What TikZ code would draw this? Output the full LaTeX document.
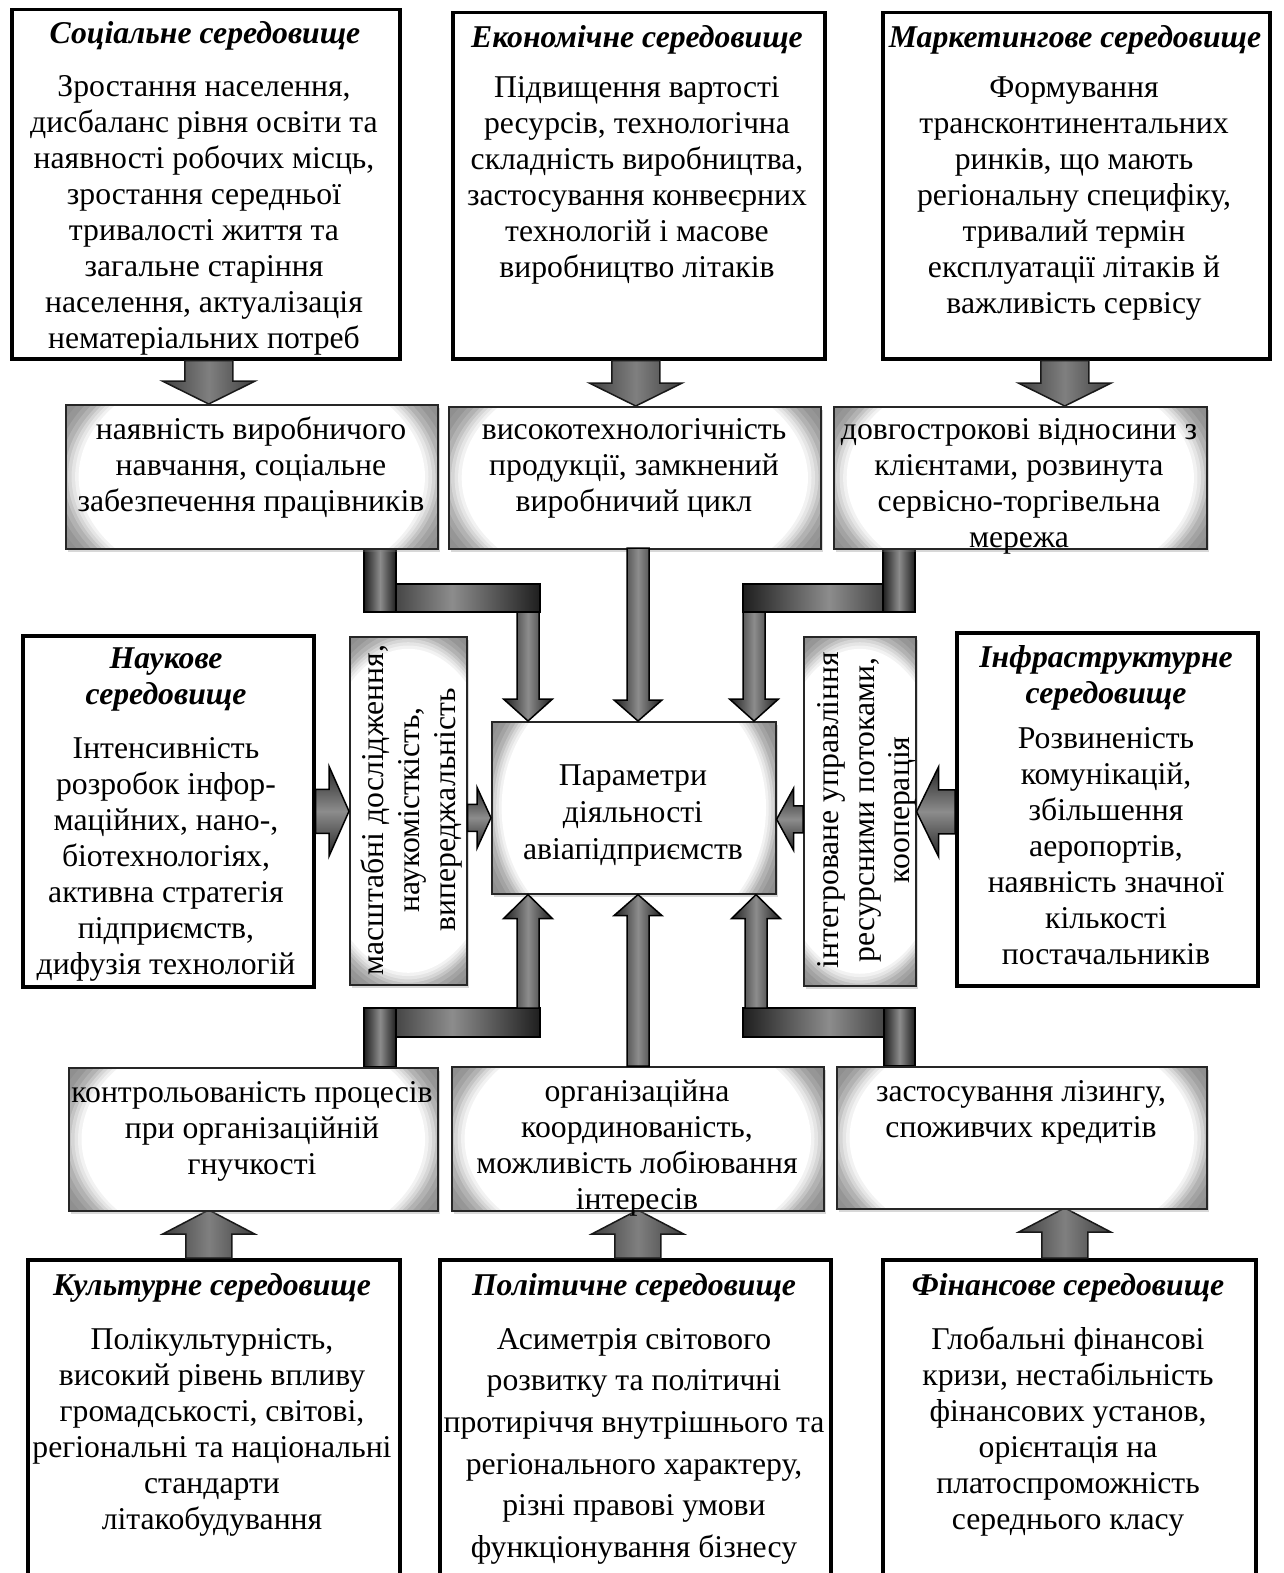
\documentclass[tikz,border=0pt]{standalone}
\usepackage{fontspec}
\setmainfont{Liberation Serif}
\usetikzlibrary{shadows,calc}
\newcommand{\blkdown}[6]{\path[#1] let \p1=(#2), \p2=(#3) in (\x1-#4pt,\y1) -- (\x1-#4pt,\y2+#6pt) -- (\x1-#5pt,\y2+#6pt) -- (\x1,\y2) -- (\x1+#5pt,\y2+#6pt) -- (\x1+#4pt,\y2+#6pt) -- (\x1+#4pt,\y1) -- cycle;}
\newcommand{\blkup}[6]{\path[#1] let \p1=(#2), \p2=(#3) in (\x1-#4pt,\y1) -- (\x1-#4pt,\y2-#6pt) -- (\x1-#5pt,\y2-#6pt) -- (\x1,\y2) -- (\x1+#5pt,\y2-#6pt) -- (\x1+#4pt,\y2-#6pt) -- (\x1+#4pt,\y1) -- cycle;}
\newcommand{\blkright}[6]{\path[#1] let \p1=(#2), \p2=(#3) in (\x1,\y1+#4pt) -- (\x2-#6pt,\y1+#4pt) -- (\x2-#6pt,\y1+#5pt) -- (\x2,\y1) -- (\x2-#6pt,\y1-#5pt) -- (\x2-#6pt,\y1-#4pt) -- (\x1,\y1-#4pt) -- cycle;}
\newcommand{\blkleft}[6]{\path[#1] let \p1=(#2), \p2=(#3) in (\x1,\y1+#4pt) -- (\x2+#6pt,\y1+#4pt) -- (\x2+#6pt,\y1+#5pt) -- (\x2,\y1) -- (\x2+#6pt,\y1-#5pt) -- (\x2+#6pt,\y1-#4pt) -- (\x1,\y1-#4pt) -- cycle;}
\newcommand{\glowfill}[2]{%
  \foreach \grad/\gcol in {1.32/46,1.22/44,1.16/41,1.12/36,1.09/30,1.06/23,1.04/16,1.02/10,1.00/5,0.98/0} {%
    \fill[black!\gcol] let \p1=(path picture bounding box.south west), \p2=(path picture bounding box.north east),
      \n1={(\x2-\x1)/2}, \n2={(\y2-\y1)/2} in
      (path picture bounding box.center) ellipse [x radius=\grad*#1*\n1, y radius=\grad*#2*\n2];}}
\tikzset{
  thickbox/.style={draw=black, line width=3.5pt, fill=white, inner sep=0pt, anchor=north west},
  glowbox/.style={draw=black!85, line width=1.6pt, fill=black!46, inner sep=0pt, anchor=north west,
    drop shadow={shadow xshift=2.5pt, shadow yshift=-3.5pt, opacity=0.3}, path picture={\glowfill{0.95}{1.65}}},
  tallglow/.style={glowbox, path picture={\glowfill{1.65}{0.95}}},
  txt/.style={font=\fontsize{31.7}{36}\selectfont, align=center, inner sep=0pt, anchor=north},
  ttl/.style={font=\fontsize{31.7}{36}\selectfont\bfseries\itshape, align=center, inner sep=0pt, anchor=north},
  blk/.style={draw=black, line width=1.5pt, left color=black!88, right color=black!88, middle color=black!45},
  blkv/.style={draw=black, line width=1.5pt, top color=black!85, bottom color=black!85, middle color=black!45},
  blklight/.style={draw=black!90, line width=1.5pt, left color=black!75, right color=black!75, middle color=black!50},
}
\begin{document}
\begin{tikzpicture}[x=1pt,y=-1pt]
\useasboundingbox (0,0) rectangle (1284,1573);
\fill[white] (0,0) rectangle (1284,1573);

% ---- boxes (nodes) ----
\node[thickbox, minimum width=388pt, minimum height=349pt] (soc) at (10,8) {};
\node[thickbox, minimum width=372pt, minimum height=346pt] (eco) at (451,11) {};
\node[thickbox, minimum width=387pt, minimum height=346pt] (mkt) at (881,11) {};
\node[thickbox, minimum width=291pt, minimum height=351pt] (nau) at (21,634) {};
\node[thickbox, minimum width=301pt, minimum height=353pt] (inf) at (955,631) {};
\node[thickbox, minimum width=372pt, minimum height=342pt] (cul) at (26,1258) {};
\node[thickbox, minimum width=391pt, minimum height=342pt] (pol) at (438,1258) {};
\node[thickbox, minimum width=373pt, minimum height=342pt] (fin) at (881,1258) {};

% ---- connectors: top row ----
\blkdown{blklight}{[xshift=3pt]soc.south}{0,404}{24}{46.5}{23}
\blkdown{blklight}{[xshift=-3pt]eco.south}{0,406}{24}{46.5}{23}
\blkdown{blklight}{[xshift=-11.5pt]mkt.south}{0,406}{24}{46.5}{23}
% bottom row
\blkup{blklight}{[xshift=-5pt]cul.north}{0,1210}{23}{46}{24}
\blkup{blklight}{[xshift=2.5pt]pol.north}{0,1210}{23}{46}{24}
\blkup{blklight}{[xshift=-4.5pt]fin.north}{0,1208}{23}{46}{24}

% elbows
\coordinate (etl) at (528,612);
\coordinate (etr) at (754,612);
\coordinate (ebl) at (528,1008);
\coordinate (ebr) at (756,1008);
\coordinate (emt) at (638,548);
\coordinate (emb) at (638,1066);

\path[blk] (364,584) rectangle (540,612);
\path[blk] (364,548) rectangle (396,612);
\path[blk] (743,584) rectangle (915,612);
\path[blk] (883,548) rectangle (915,612);
\path[blk] (364,1008) rectangle (540,1037);
\path[blk] (364,1008) rectangle (396,1067);
\path[blk] (743,1008) rectangle (915,1037);
\path[blk] (884,1008) rectangle (915,1066);

% gray boxes
\node[glowbox, minimum width=372pt, minimum height=144pt] (g1) at (65,404) {};
\node[glowbox, minimum width=372pt, minimum height=142pt] (g2) at (448,406) {};
\node[glowbox, minimum width=373pt, minimum height=142pt] (g3) at (833,406) {};
\node[tallglow, minimum width=117pt, minimum height=348pt] (v1) at (349,636) {};
\node[glowbox, minimum width=284pt, minimum height=172pt] (cen) at (491,721) {};
\node[tallglow, minimum width=112pt, minimum height=349pt] (v2) at (803,636) {};
\node[glowbox, minimum width=369pt, minimum height=143pt] (b1) at (68,1067) {};
\node[glowbox, minimum width=372pt, minimum height=144pt] (b2) at (451,1066) {};
\node[glowbox, minimum width=370pt, minimum height=142pt] (b3) at (836,1066) {};

% arrows into centre
\blkdown{blk}{etl}{cen.north}{11}{24.5}{22}
\blkdown{blk}{etr}{cen.north}{11}{24.5}{22}
\blkdown{blk}{emt}{cen.north}{11}{24}{21}
\blkup{blk}{ebl}{cen.south}{11}{24.5}{24}
\blkup{blk}{ebr}{cen.south}{11}{24.5}{24}
\blkup{blk}{emb}{cen.south}{11}{24}{21}

% horizontal arrows
\blkright{blkv}{nau.east}{v1.west}{22}{45}{20}
\blkright{blkv}{[yshift=-7pt]v1.east}{cen.west}{13.5}{30.5}{14}
\blkleft{blkv}{[yshift=-8pt]v2.west}{cen.east}{13.5}{31}{17}
\blkleft{blkv}{[yshift=-2.5pt]inf.west}{v2.east}{22}{45}{22}

% ---- texts ----
\node[ttl] (soct) at (205,18.5) {\strut Соціальне середовище};
\node[txt] (socb) at (204,71) {\strut Зростання населення,\\дисбаланс рівня освіти та\\наявності робочих місць,\\зростання середньої\\тривалості життя та\\загальне старіння\\населення, актуалізація\\нематеріальних потреб};

\node[ttl] (ecot) at (637,22.5) {\strut Економічне середовище};
\node[txt] (ecob) at (637,72.5) {\strut Підвищення вартості\\ресурсів, технологічна\\складність виробництва,\\застосування конвеєрних\\технологій і масове\\виробництво літаків};

\node[ttl] (mktt) at (1075,22.5) {\strut Маркетингове середовище};
\node[txt] (mktb) at (1074,72.5) {\strut Формування\\трансконтинентальних\\ринків, що мають\\регіональну специфіку,\\тривалий термін\\експлуатації літаків й\\важливість сервісу};

\node[txt] (g1t) at (251,414) {\strut наявність виробничого\\навчання, соціальне\\забезпечення працівників};
\node[txt] (g2t) at (634,414) {\strut високотехнологічність\\продукції, замкнений\\виробничий цикл};
\node[txt] (g3t) at (1019,414) {\strut довгострокові відносини з\\клієнтами, розвинута\\сервісно-торгівельна\\мережа};

\node[ttl] (naut) at (166,643.5) {\strut Наукове\\середовище};
\node[txt] (naub) at (166,732.8) {\strut Інтенсивність\\розробок інфор-\\маційних, нано-,\\біотехнологіях,\\активна стратегія\\підприємств,\\дифузія технологій};

\node[txt, rotate=90, anchor=center] (v1t) at (412,810) {масштабні дослідження,\\наукомісткість,\\випереджальність};
\node[txt, font=\fontsize{31.7}{37}\selectfont] (cent) at (633,759) {\strut Параметри\\діяльності\\авіапідприємств};
\node[txt, font=\fontsize{31.7}{35.5}\selectfont, rotate=90, anchor=center] (v2t) at (867,810) {інтегроване управління\\ресурсними потоками,\\кооперація};

\node[ttl] (inft) at (1106,642.5) {\strut Інфраструктурне\\середовище};
\node[txt] (infb) at (1106,722.8) {\strut Розвиненість\\комунікацій,\\збільшення\\аеропортів,\\наявність значної\\кількості\\постачальників};

\node[txt] (b1t) at (252,1076.8) {\strut контрольованість процесів\\при організаційній\\гнучкості};
\node[txt] (b2t) at (637,1075.8) {\strut організаційна\\координованість,\\можливість лобіювання\\інтересів};
\node[txt] (b3t) at (1021,1075.8) {\strut застосування лізингу,\\споживчих кредитів};

\node[ttl] (cult) at (212,1269.8) {\strut Культурне середовище};
\node[txt] (culb) at (212,1323.8) {\strut Полікультурність,\\високий рівень впливу\\громадськості, світові,\\регіональні та національні\\стандарти\\літакобудування};

\node[ttl] (polt) at (634,1269.8) {\strut Політичне середовище};
\node[txt, font=\fontsize{31.7}{41.6}\selectfont] (polb) at (634,1319.9) {\strut Асиметрія світового\\розвитку та політичні\\протиріччя внутрішнього та\\регіонального характеру,\\різні правові умови\\функціонування бізнесу};

\node[ttl] (fint) at (1068,1269.8) {\strut Фінансове середовище};
\node[txt] (finb) at (1068,1323.8) {\strut Глобальні фінансові\\кризи, нестабільність\\фінансових установ,\\орієнтація на\\платоспроможність\\середнього класу};
\end{tikzpicture}
\end{document}
